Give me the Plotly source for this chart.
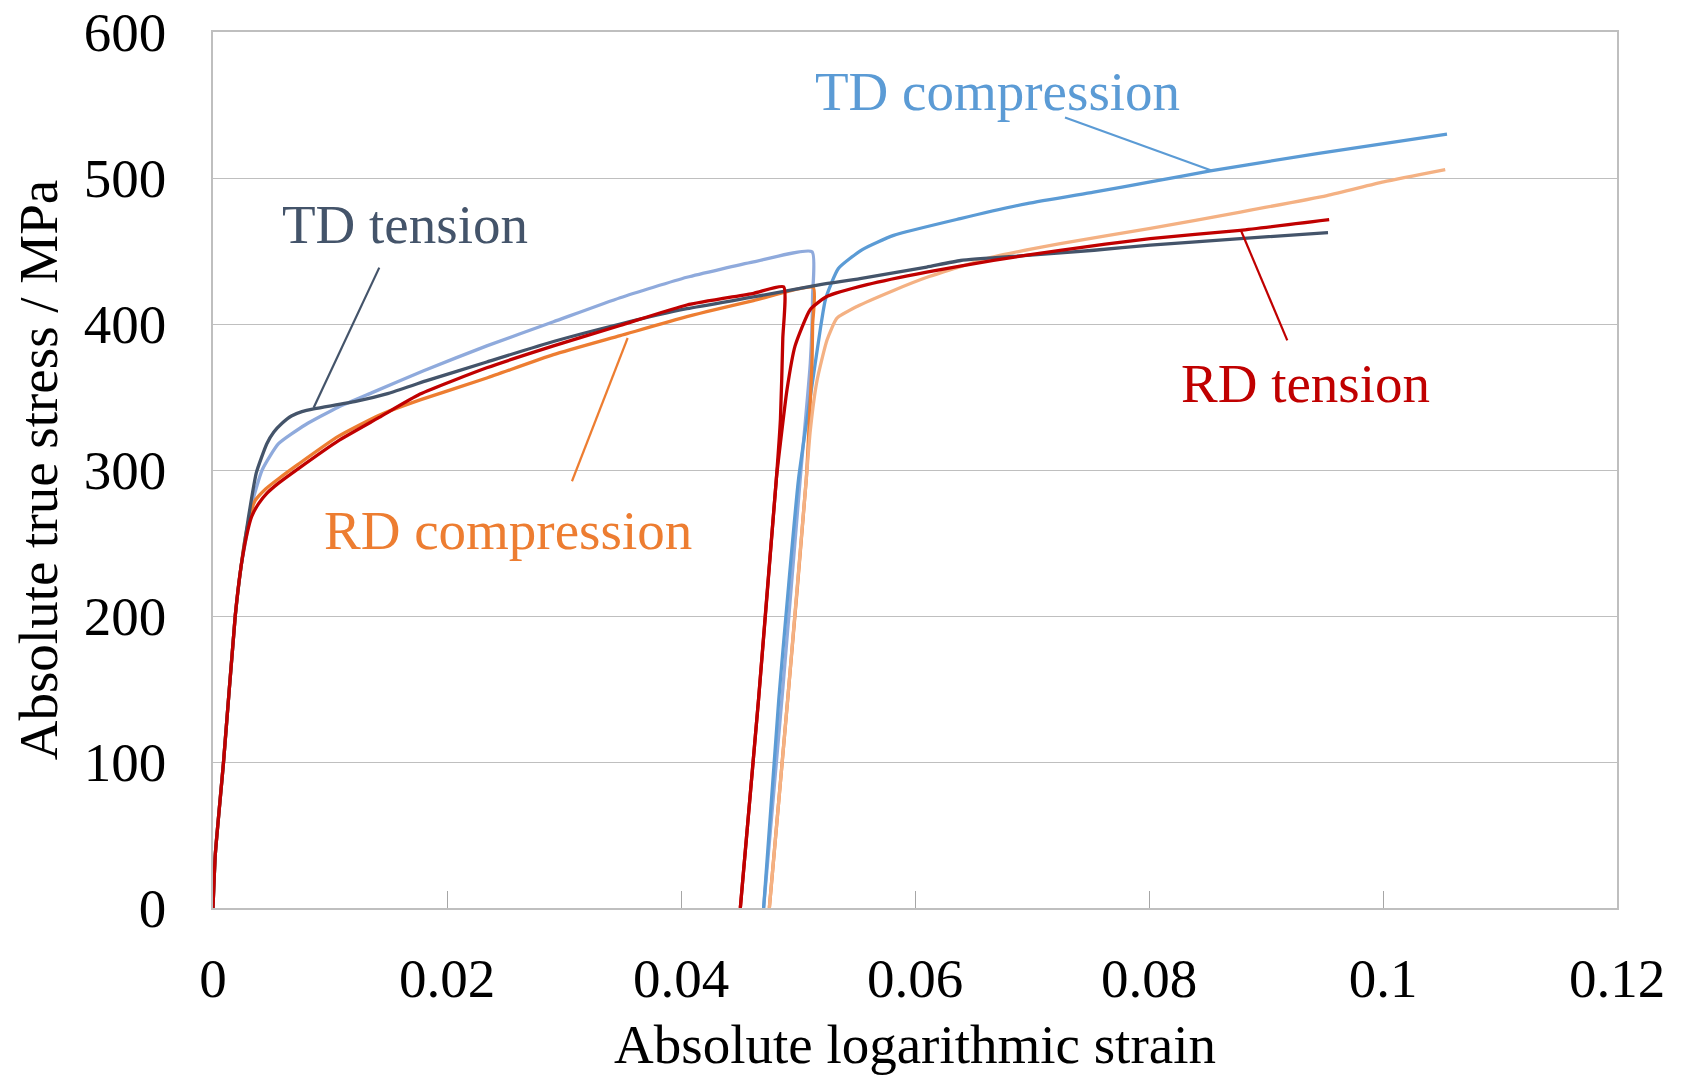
import plotly.graph_objects as go

# ---------------- data ----------------
td_tension_x = [0, 0.0002, 0.0009, 0.0019, 0.0024, 0.0030, 0.0037, 0.0046, 0.0052, 0.0059, 0.0067, 0.0076, 0.0087,
                0.0122, 0.0150, 0.0182, 0.0234, 0.0291, 0.0348, 0.0405, 0.0462, 0.0519, 0.0553,
                0.0610, 0.0639, 0.0696, 0.0753, 0.0801, 0.0878, 0.0953]
td_tension_y = [0, 37, 100, 200, 234, 266, 298, 318, 326, 332, 337, 340, 342,
                347, 352.5, 361, 374, 388, 400, 410.5, 418.5, 427, 431,
                439, 443.5, 447, 450.5, 454, 458.5, 462.6]

td_comp1_x = [0, 0.0002, 0.0009, 0.0019, 0.0024, 0.0028, 0.0033, 0.0042, 0.0056, 0.0079, 0.0107, 0.0136,
              0.0180, 0.0234, 0.0291, 0.0348, 0.0405, 0.0462, 0.0512,
              0.05125, 0.05105, 0.0502, 0.0487, 0.04706]
td_comp1_y = [0, 37, 100, 200, 234, 252, 276, 300, 318, 331, 343, 353,
              368, 385, 401.5, 418, 432, 442.5, 449.5,
              420, 373, 295, 150, 0]

td_comp2_x = [0.04706, 0.04835, 0.05005, 0.05105, 0.0519, 0.05235, 0.05345, 0.0555, 0.05817,
              0.06387, 0.06957, 0.07527, 0.08012, 0.08524, 0.09436, 0.10547]
td_comp2_y = [0, 142, 294, 350, 396, 417, 438, 451, 460.7,
              472.2, 482.5, 490.4, 497.3, 504.8, 516.7, 530]

rd_comp1_x = [0, 0.0002, 0.0009, 0.0019, 0.0024, 0.0027, 0.0031, 0.0036, 0.0045, 0.0056, 0.0073, 0.0107,
              0.0142, 0.0177, 0.0234, 0.0291, 0.0348, 0.0405, 0.0462, 0.0513,
              0.05125, 0.0512, 0.05071, 0.04911, 0.04755]
rd_comp1_y = [0, 37, 100, 200, 234, 251, 267, 279, 287, 294, 304, 323,
              337.5, 348, 363, 379, 392, 405, 416, 425,
              400, 375, 294, 142, 0]

rd_comp2_x = [0.04755, 0.04911, 0.05071, 0.05105, 0.05162, 0.05248, 0.05333, 0.05504, 0.05817,
              0.06103, 0.06672, 0.07242, 0.08012, 0.08781, 0.09521, 0.10005, 0.10532]
rd_comp2_y = [0, 142, 294, 327, 361, 389, 404, 412, 423,
              432, 446, 455, 465.5, 476.7, 488, 497.3, 505.7]

rd_tension1_x = [0, 0.0002, 0.0009, 0.0019, 0.0024, 0.0029, 0.0033, 0.0039, 0.0046, 0.0056, 0.0073,
                 0.0107, 0.0142, 0.0177, 0.0234, 0.0291, 0.0348, 0.0405, 0.0462, 0.04877,
                 0.0487, 0.0485, 0.04815, 0.04663, 0.04507]
rd_tension1_y = [0, 37, 100, 200, 234, 256, 268, 277, 284, 291, 301,
                 320, 336, 352, 370, 385, 399, 413, 421, 425.5,
                 390, 335, 294, 143, 0]

rd_tension2_x = [0.04507, 0.04663, 0.04815, 0.04849, 0.04906, 0.04975, 0.05105, 0.0525, 0.0559,
                 0.0610, 0.0667, 0.0724, 0.0801, 0.0878, 0.0954]
rd_tension2_y = [0, 143, 294, 318, 355, 385, 410, 419, 427,
                 435.6, 443.6, 450.5, 458.5, 464.2, 471.5]

# label texts, anchor points (data units) and leader line ends
labels = ["TD compression", "TD tension", "RD compression", "RD tension"]
label_x = [0.06709, 0.01644, 0.02524, 0.09336]
label_y = [559, 468.3, 258.9, 359]
leader_x0 = [0.07282, 0.01421, 0.03544, 0.08785]
leader_y0 = [541.5, 438.6, 390.4, 464.2]
leader_x1 = [0.0854, 0.0086, 0.03068, 0.09182]
leader_y1 = [505.0, 342.7, 292.3, 388.8]

x_title = "Absolute logarithmic strain"
y_title = "Absolute true stress / MPa"

# ---------------- styling ----------------
C_DARK = "#44546A"
C_LAV = "#8FAADC"
C_BLUE = "#5B9BD5"
C_ORANGE = "#ED7D31"
C_SALMON = "#F4B183"
C_RED = "#C00000"
label_colors = [C_BLUE, C_DARK, C_ORANGE, C_RED]
FONT = "Liberation Serif, Times New Roman, serif"
GRID = "#BFBFBF"

fig = go.Figure()
series = [
    (td_comp1_x, td_comp1_y, C_LAV, "TD compression (1)"),
    (td_comp2_x, td_comp2_y, C_BLUE, "TD compression (2)"),
    (rd_comp1_x, rd_comp1_y, C_ORANGE, "RD compression (1)"),
    (rd_comp2_x, rd_comp2_y, C_SALMON, "RD compression (2)"),
    (td_tension_x, td_tension_y, C_DARK, "TD tension"),
    (rd_tension1_x, rd_tension1_y, C_RED, "RD tension (1)"),
    (rd_tension2_x, rd_tension2_y, C_RED, "RD tension (2)"),
]
for xs, ys, col, name in series:
    fig.add_trace(go.Scatter(x=xs, y=ys, mode="lines", name=name,
                             line=dict(color=col, width=3.3, shape="spline", smoothing=0.5),
                             showlegend=False))

for i, t in enumerate(labels):
    fig.add_shape(type="line", xref="x", yref="y",
                  x0=leader_x0[i], y0=leader_y0[i], x1=leader_x1[i], y1=leader_y1[i],
                  line=dict(color=label_colors[i], width=2.2))
    fig.add_annotation(x=label_x[i], y=label_y[i], xref="x", yref="y", text=t,
                       showarrow=False, xanchor="center", yanchor="middle",
                       font=dict(family=FONT, size=55, color=label_colors[i]))

# the page body adds an 8 px offset, so the figure is 8 px smaller and margins shifted
fig.update_layout(
    width=1674, height=1067,
    margin=dict(l=205, r=65, t=24, b=167),
    paper_bgcolor="white", plot_bgcolor="white",
    font=dict(family=FONT, size=55, color="black"),
)
fig.update_xaxes(range=[0, 0.12], dtick=0.02, tick0=0, showgrid=False,
                 showline=True, linecolor=GRID, linewidth=1.5, mirror=True,
                 ticks="inside", ticklen=17, tickcolor="#A6A6A6", tickwidth=1.2,
                 zeroline=False, ticklabelstandoff=21, automargin=False,
                 ticklabeloverflow="allow",
                 title=dict(text=x_title, standoff=35, font=dict(family=FONT, size=55)))
fig.update_yaxes(range=[0, 600], dtick=100, tick0=0, showgrid=True, gridcolor=GRID, gridwidth=1.3,
                 showline=True, linecolor=GRID, linewidth=1.5, mirror=True,
                 ticks="", zeroline=False, ticklabelstandoff=34, automargin=False,
                 ticklabeloverflow="allow",
                 title=dict(text=y_title, standoff=15, font=dict(family=FONT, size=55)))

fig.write_html("out.html")
